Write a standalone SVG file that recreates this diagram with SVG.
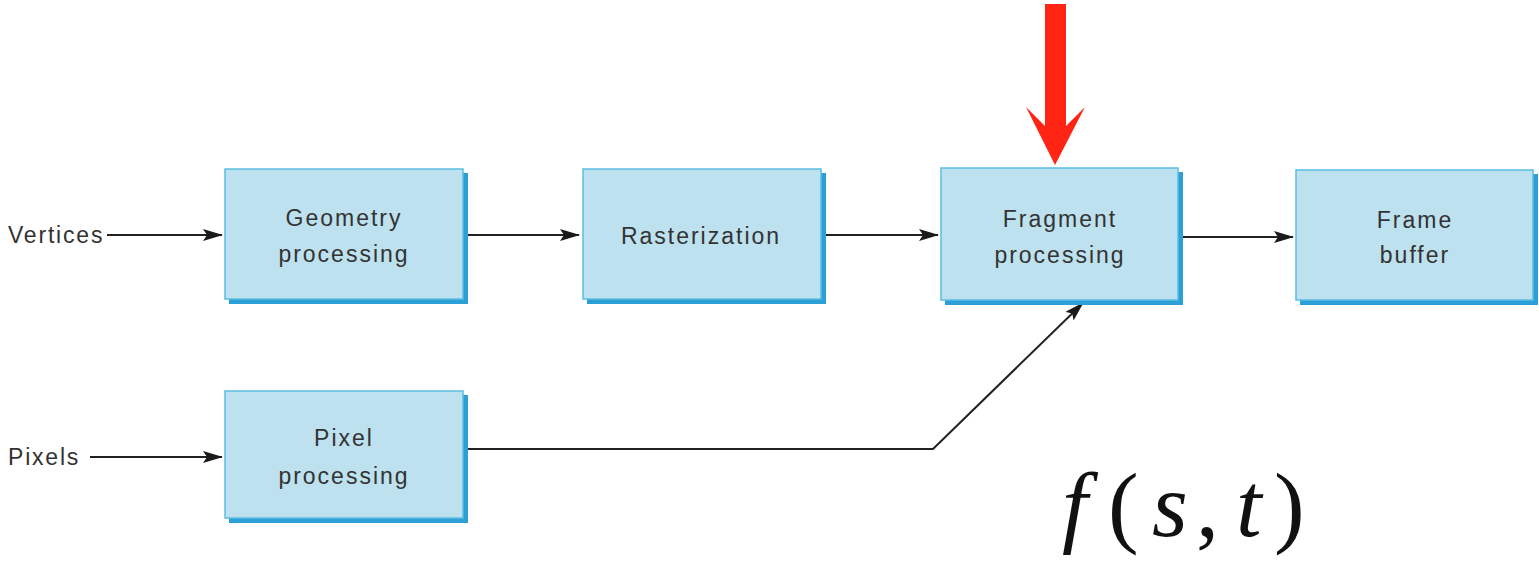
<svg xmlns="http://www.w3.org/2000/svg" width="1539" height="567" viewBox="0 0 1539 567">
  <defs>
    <style>
      .shadow { fill: #2b9fd6; }
      .box { fill: #bde1ee; stroke: #5cbde2; stroke-width: 1.5; }
      .lbl { font-family: "Liberation Sans", Arial, sans-serif; font-size: 23px; fill: #333; text-anchor: middle; letter-spacing: 2px; }
      .side { font-family: "Liberation Sans", Arial, sans-serif; font-size: 23px; fill: #333; letter-spacing: 1.8px; }
      .wire { fill: none; stroke: #222; stroke-width: 2; }
      .math { font-family: "Liberation Serif", "Times New Roman", serif; font-size: 92px; fill: #111; }
    </style>
    <marker id="tip" viewBox="0 0 20 12" refX="19" refY="6" markerWidth="20" markerHeight="12" markerUnits="userSpaceOnUse" orient="auto">
      <path d="M0,0 L20,6 L0,12 L4,6 Z" fill="#1a1a1a"/>
    </marker>
  </defs>

  <!-- connectors -->
  <g id="connectors">
    <line class="wire" x1="107" y1="235" x2="222" y2="235" marker-end="url(#tip)"/>
    <line class="wire" x1="90" y1="457" x2="222" y2="457" marker-end="url(#tip)"/>
    <line class="wire" x1="465" y1="235" x2="579" y2="235" marker-end="url(#tip)"/>
    <line class="wire" x1="823" y1="235" x2="938" y2="235" marker-end="url(#tip)"/>
    <line class="wire" x1="1183" y1="237" x2="1293" y2="237" marker-end="url(#tip)"/>
    <polyline class="wire" points="466,449 933,449 1083,303" marker-end="url(#tip)"/>
    <!-- red pointer -->
    <polygon points="1045,4 1066,4 1066,126 1085,107 1055,165 1026,107 1045,126" fill="#ff2414"/>
  </g>

  <text class="side" x="8" y="243">Vertices</text>
  <text class="side" x="8" y="465">Pixels</text>

  <g id="geometry">
    <rect class="shadow" x="229" y="173" width="239" height="131"/>
    <rect class="box" x="225" y="169" width="238" height="130"/>
    <text class="lbl" x="344" y="226">Geometry</text>
    <text class="lbl" x="344" y="262">processing</text>
  </g>

  <g id="rasterization">
    <rect class="shadow" x="587" y="173" width="239" height="131"/>
    <rect class="box" x="583" y="169" width="238" height="130"/>
    <text class="lbl" x="701" y="244">Rasterization</text>
  </g>

  <g id="fragment">
    <rect class="shadow" x="945" y="172" width="238" height="133"/>
    <rect class="box" x="941" y="168" width="237" height="132"/>
    <text class="lbl" x="1060" y="227">Fragment</text>
    <text class="lbl" x="1060" y="263">processing</text>
  </g>

  <g id="framebuffer">
    <rect class="shadow" x="1300" y="174" width="238" height="131"/>
    <rect class="box" x="1296" y="170" width="237" height="130"/>
    <text class="lbl" x="1415" y="228">Frame</text>
    <text class="lbl" x="1415" y="263">buffer</text>
  </g>

  <g id="pixel">
    <rect class="shadow" x="229" y="395" width="239" height="128"/>
    <rect class="box" x="225" y="391" width="238" height="127"/>
    <text class="lbl" x="344" y="446">Pixel</text>
    <text class="lbl" x="344" y="484">processing</text>
  </g>

  <text class="math" y="536"><tspan x="1062" font-style="italic">f</tspan><tspan x="1108">(</tspan><tspan x="1152" font-style="italic">s</tspan><tspan x="1196">,</tspan><tspan x="1236" font-style="italic">t</tspan><tspan x="1274">)</tspan></text>
</svg>
